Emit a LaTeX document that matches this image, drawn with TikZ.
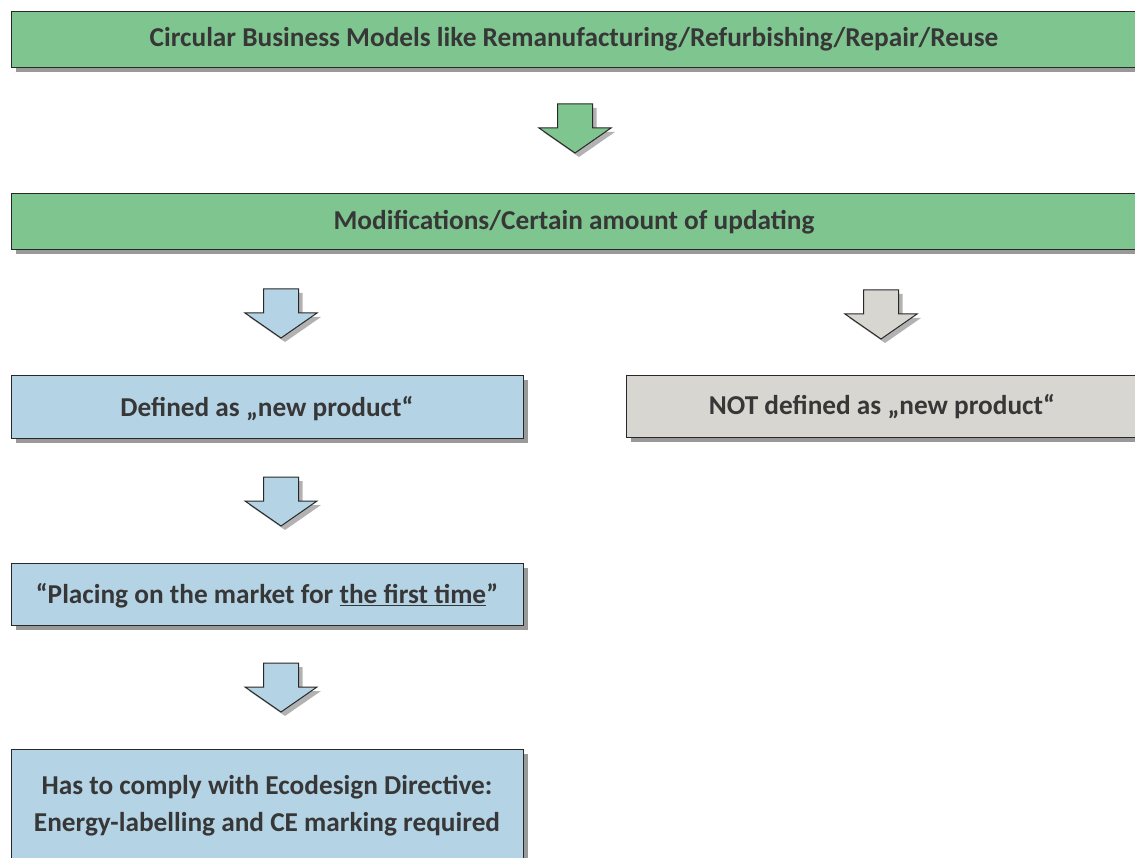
\documentclass[tikz,border=0pt]{standalone}
\usepackage{fontspec}
\setmainfont{Carlito}
\usetikzlibrary{shadows}
\definecolor{gfill}{RGB}{127,197,143}
\definecolor{bfill}{RGB}{180,212,230}
\definecolor{cfill}{RGB}{215,214,209}
\definecolor{txt}{RGB}{55,55,55}
\definecolor{edge}{RGB}{40,40,40}
\begin{document}
\begin{tikzpicture}[x=1pt,y=-1pt,
  boxbase/.style={draw=edge, line width=1.1pt, anchor=north west, inner sep=0pt,
    drop shadow={shadow xshift=4pt, shadow yshift=-4pt, fill=black, opacity=0.4}},
  gbox/.style={boxbase, fill=gfill},
  bbox/.style={boxbase, fill=bfill},
  cbox/.style={boxbase, fill=cfill},
  txtnode/.style={text=txt, font=\bfseries\fontsize{27.3}{37}\selectfont, align=center, inner sep=0pt},
  darrow/.pic={
    \fill[black, opacity=0.3] (-17.5+4,4) -- (17.5+4,4) -- (17.5+4,24+4) -- (36+4,24+4) -- (0+4,49+4) -- (-36+4,24+4) -- (-17.5+4,24+4) -- cycle;
    \draw[pic actions, draw=edge, line width=1pt, line join=miter] (-17.5,0) -- (17.5,0) -- (17.5,24) -- (36,24) -- (0,49) -- (-36,24) -- (-17.5,24) -- cycle;
  }
]
\useasboundingbox (0,0) rectangle (1135,858);
\node[gbox, minimum width=1140pt, minimum height=56pt] (b1) at (11,11) {};
\node[txtnode] (t1) at (574,39) {Circular Business Models like Remanufacturing/Refurbishing/Repair/Reuse};
\pic[fill=gfill] at (575,104) {darrow};
\node[gbox, minimum width=1140pt, minimum height=56pt] (b2) at (11,193) {};
\node[txtnode] (t2) at (574,222) {Modifications/Certain amount of updating};
\pic[fill=bfill] at (281,289) {darrow};
\pic[fill=cfill] at (881,290) {darrow};
\node[bbox, minimum width=512pt, minimum height=63pt] (b3) at (11,375) {};
\node[txtnode] (t3) at (267,409) {Defined as „new product“};
\node[cbox, minimum width=520pt, minimum height=62pt] (b4) at (626,375) {};
\node[txtnode] (t4) at (882,407) {NOT defined as „new product“};
\pic[fill=bfill] at (281,477) {darrow};
\node[bbox, minimum width=512pt, minimum height=62pt] (b5) at (11,563) {};
\node[txtnode] (t5) at (267,596) {“Placing on the market for \underline{the first time}”};
\pic[fill=bfill] at (281,663) {darrow};
\node[bbox, minimum width=512pt, minimum height=130pt] (b6) at (11,749) {};
\node[txtnode] (t6) at (267,806) {Has to comply with Ecodesign Directive:\\Energy-labelling and CE marking required};
\end{tikzpicture}
\end{document}
